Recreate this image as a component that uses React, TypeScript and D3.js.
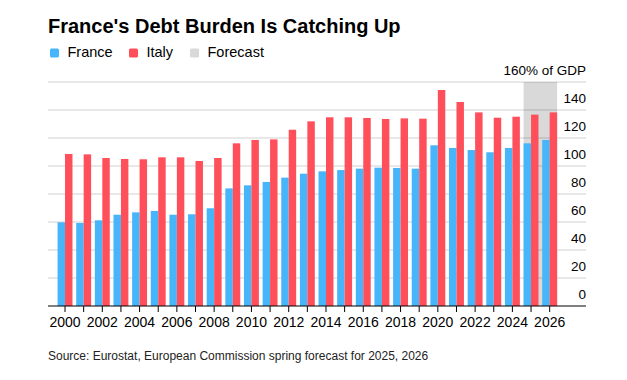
import React from "react";
import * as d3 from "d3";

const years = [
  "2000","2001","2002","2003","2004","2005","2006","2007","2008","2009",
  "2010","2011","2012","2013","2014","2015","2016","2017","2018","2019",
  "2020","2021","2022","2023","2024","2025","2026",
];
const france = [
  59.8, 59.3, 61.2, 65.2, 66.9, 67.9, 65.2, 65.5, 69.8, 84.0,
  86.2, 88.6, 91.7, 94.5, 96.2, 97.1, 98.1, 98.8, 98.6, 98.1,
  114.8, 112.9, 111.4, 109.8, 112.9, 116.2, 118.6,
];
const italy = [
  108.6, 108.3, 105.7, 105.0, 104.8, 106.2, 106.2, 103.6, 105.7, 116.2,
  118.6, 119.0, 125.9, 131.9, 134.8, 134.8, 134.3, 133.6, 134.0, 133.8,
  154.3, 145.7, 138.3, 134.5, 135.2, 136.7, 138.3,
];
const forecastYears = ["2025", "2026"];
const yTicks = [0, 20, 40, 60, 80, 100, 120, 140, 160];
const xLabelYears = years.filter((_, i) => i % 2 === 0);
const legendItems = [
  { label: "France", color: "#46b5f9", x: 50 },
  { label: "Italy", color: "#fe4f5b", x: 129 },
  { label: "Forecast", color: "#d9d9d9", x: 190 },
];

const FONT = "'Liberation Sans', Arial, Helvetica, sans-serif";

export default function App() {
  const W = 627;
  const H = 380;
  const left = 48;
  const right = 586;
  const y = d3.scaleLinear().domain([0, 160]).range([306, 82]);
  const x = d3
    .scaleBand<string>()
    .domain(years)
    .range([55.7, 559])
    .paddingInner(0.2)
    .paddingOuter(0.1);
  const bw = x.bandwidth();
  const half = bw / 2;
  const fx0 = x(forecastYears[0])!;
  const fx1 = x(forecastYears[forecastYears.length - 1])! + bw;

  return (
    <svg
      width={W}
      height={H}
      style={{ position: "absolute", left: 0, top: 0, background: "#fff" }}
      fontFamily={FONT}
    >
      <rect x={0} y={0} width={W} height={H} fill="#fff" />
      <text x={48} y={32.5} fontSize={20} fontWeight="bold" fill="#000">
        France's Debt Burden Is Catching Up
      </text>
      {legendItems.map((it) => (
        <g key={it.label}>
          <rect x={it.x} y={48.5} width={9} height={9} rx={1.5} fill={it.color} />
          <text x={it.x + 17.5} y={57.3} fontSize={14.5} fill="#000">
            {it.label}
          </text>
        </g>
      ))}

      {/* forecast band */}
      <rect x={fx0} y={y(160)} width={fx1 - fx0} height={y(0) - y(160)} fill="#d9d9d9" />

      {/* gridlines */}
      {yTicks
        .filter((t) => t > 0)
        .map((t) => (
          <line
            key={t}
            x1={left}
            x2={right}
            y1={y(t)}
            y2={y(t)}
            stroke="rgba(0,0,0,0.12)"
            strokeWidth={1.3}
          />
        ))}

      {/* bars */}
      {years.map((yr, i) => (
        <g key={yr}>
          <rect
            x={x(yr)!}
            y={y(france[i])}
            width={half}
            height={y(0) - y(france[i])}
            fill="#46b5f9"
          />
          <rect
            x={x(yr)! + half}
            y={y(italy[i])}
            width={half}
            height={y(0) - y(italy[i])}
            fill="#fe4f5b"
          />
        </g>
      ))}

      {/* y labels */}
      {yTicks.map((t) => (
        <text
          key={t}
          x={right}
          y={y(t) - 7}
          fontSize={13.5}
          textAnchor="end"
          fill="#000"
        >
          {t === 160 ? "160% of GDP" : String(t)}
        </text>
      ))}

      {/* x axis */}
      <line x1={left} x2={right} y1={y(0)} y2={y(0)} stroke="#000" strokeWidth={1} />
      {years.map((yr) => (
        <line
          key={yr}
          x1={x(yr)! + half}
          x2={x(yr)! + half}
          y1={y(0)}
          y2={y(0) + 6}
          stroke="#000"
          strokeWidth={1}
        />
      ))}
      {xLabelYears.map((yr) => (
        <text
          key={yr}
          x={x(yr)! + half}
          y={327}
          fontSize={14}
          textAnchor="middle"
          fill="#000"
        >
          {yr}
        </text>
      ))}

      <text x={48} y={360} fontSize={12} fill="#222">
        Source: Eurostat, European Commission spring forecast for 2025, 2026
      </text>
    </svg>
  );
}
